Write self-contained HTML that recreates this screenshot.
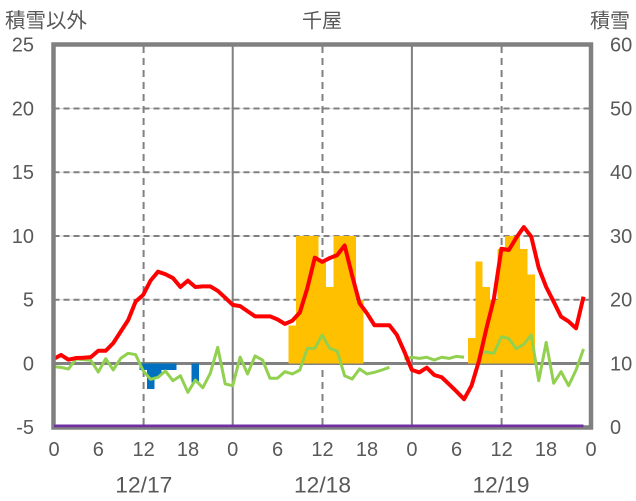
<!DOCTYPE html>
<html><head><meta charset="utf-8"><style>
html,body{margin:0;padding:0;background:#fff;}
svg{display:block;}
text{font-family:"Liberation Sans","Noto Sans CJK JP",sans-serif;fill:#595959;}
</style></head><body>
<svg width="636" height="501" viewBox="0 0 636 501" xmlns="http://www.w3.org/2000/svg">
<!-- horizontal gridlines -->
<g stroke="#d9d9d9" stroke-width="1">
<line x1="53.5" x2="591" y1="108.5" y2="108.5"/>
<line x1="53.5" x2="591" y1="172.25" y2="172.25"/>
<line x1="53.5" x2="591" y1="236" y2="236"/>
<line x1="53.5" x2="591" y1="299.75" y2="299.75"/>
</g>
<g stroke="#808080" stroke-width="2" stroke-dasharray="6 4">
<line x1="53.5" x2="591" y1="108.5" y2="108.5"/>
<line x1="53.5" x2="591" y1="172.25" y2="172.25"/>
<line x1="53.5" x2="591" y1="236" y2="236"/>
<line x1="53.5" x2="591" y1="299.75" y2="299.75"/>
</g>
<!-- vertical lines -->
<g stroke="#808080" stroke-width="2" stroke-dasharray="7 5">
<line x1="143.6" x2="143.6" y1="46" y2="427"/>
<line x1="322.5" x2="322.5" y1="46" y2="427"/>
<line x1="501.6" x2="501.6" y1="46" y2="427"/>
</g>
<g stroke="#808080" stroke-width="2">
<line x1="232.7" x2="232.7" y1="46" y2="427"/>
<line x1="411.9" x2="411.9" y1="46" y2="427"/>
</g>
<!-- zero line -->
<line x1="53.5" x2="591" y1="363.5" y2="363.5" stroke="#808080" stroke-width="3"/>

<g transform="translate(53.5,363.5) scale(7.465,-12.75)" shape-rendering="crispEdges">
<!-- yellow bars -->
<g fill="#FFC000">
<rect x="31.5" y="0" width="1" height="3"/>
<rect x="32.5" y="0" width="3" height="10"/>
<rect x="35.5" y="0" width="1" height="8"/>
<rect x="36.5" y="0" width="1" height="6"/>
<rect x="37.5" y="0" width="3" height="10"/>
<rect x="40.5" y="0" width="1" height="5"/>
<rect x="55.5" y="0" width="1" height="2"/>
<rect x="56.5" y="0" width="1" height="8"/>
<rect x="57.5" y="0" width="1" height="6"/>
<rect x="58.5" y="0" width="1" height="5"/>
<rect x="59.5" y="0" width="1" height="9"/>
<rect x="60.5" y="0" width="2" height="10"/>
<rect x="62.5" y="0" width="1" height="9"/>
<rect x="63.5" y="0" width="1" height="7"/>
</g>
<!-- blue bars -->
<g fill="#0070C0">
<rect x="11.5" y="-0.5" width="5" height="0.5"/>
<rect x="12.5" y="-2" width="1" height="2"/>
<rect x="13.5" y="-1" width="1" height="1"/>
<rect x="18.5" y="-1.5" width="1" height="1.5"/>
</g>
</g>

<g transform="translate(53.5,363.5) scale(7.465,-12.75)" fill="none" stroke-linejoin="round">
<!-- purple line -->
<polyline vector-effect="non-scaling-stroke" stroke="#7030A0" stroke-width="2.5" points="0,-4.88 71,-4.88"/>
<!-- green line -->
<g stroke="#92D050" stroke-width="3">
<polyline vector-effect="non-scaling-stroke" points="0,-0.25 1,-0.3 2,-0.43 3,0.35 4,0.3 5,0.25 6,-0.67 7,0.38 8,-0.5 9,0.4 10,0.8 11,0.7 12,-0.56 13,-1.24 14,-1.08 15,-0.59 16,-1.35 17,-0.96 18,-2.26 19,-1.3 20,-1.9 21,-0.77 22,1.27 23,-1.6 24,-1.74 25,0.5 26,-0.82 27,0.59 28,0.27 29,-1.16 30,-1.16 31,-0.64 32,-0.82 33,-0.51 34,1.19 35,1.19 36,2.24 37,1.19 38,0.98 39,-0.96 40,-1.22 41,-0.43 42,-0.82 43,-0.69 44,-0.51 45,-0.3"/>
<polyline vector-effect="non-scaling-stroke" points="47,0.35 48,0.49 49,0.4 50,0.49 51,0.27 52,0.49 53,0.4 54,0.56 55,0.49"/>
<polyline vector-effect="non-scaling-stroke" points="57,0.8 58,0.9 59,0.8 60,2.1 61,1.95 62,1.16 63,1.5 64,2.24 65,-1.35 66,1.66 67,-1.55 68,-0.64 69,-1.74 70,-0.51 71,1.14"/>
</g>
<!-- red line -->
<polyline vector-effect="non-scaling-stroke" stroke="#FF0000" stroke-width="4" points="0,0.35 1,0.67 2,0.3 3,0.43 4,0.45 5,0.5 6,1.0 7,1.0 8,1.6 9,2.5 10,3.4 11,4.85 12,5.37 13,6.5 14,7.2 15,7.0 16,6.7 17,6.0 18,6.5 19,6.0 20,6.05 21,6.05 22,5.7 23,5.16 24,4.6 25,4.5 26,4.1 27,3.7 28,3.7 29,3.7 30,3.46 31,3.1 32,3.36 33,4.0 34,5.9 35,8.3 36,7.97 37,8.27 38,8.5 39,9.26 40,6.9 41,4.72 42,3.93 43,3.0 44,3.0 45,3.0 46,2.24 47,0.93 48,-0.5 49,-0.7 50,-0.33 51,-0.9 52,-1.08 53,-1.63 54,-2.2 55,-2.8 56,-1.74 57,0.22 58,2.76 59,5.1 60,9.0 61,8.9 62,9.87 63,10.7 64,9.95 65,7.5 66,6.0 67,4.85 68,3.67 69,3.3 70,2.76 71,5.24"/>
</g>

<!-- border -->
<rect x="53.5" y="44.5" width="537.5" height="383" fill="none" stroke="#808080" stroke-width="4.5"/>
<line x1="54" x2="583.5" y1="426" y2="426" stroke="#7030A0" stroke-width="2.5"/>

<!-- left axis labels -->
<g font-size="20" text-anchor="end">
<text x="34" y="51.5">25</text>
<text x="34" y="115.5">20</text>
<text x="34" y="179.2">15</text>
<text x="34" y="243">10</text>
<text x="34" y="306.7">5</text>
<text x="34" y="370.5">0</text>
<text x="34" y="434.2">-5</text>
</g>
<!-- right axis labels -->
<g font-size="20" text-anchor="start">
<text x="610" y="51.5">60</text>
<text x="610" y="115.5">50</text>
<text x="610" y="179.2">40</text>
<text x="610" y="243">30</text>
<text x="610" y="306.7">20</text>
<text x="610" y="370.5">10</text>
<text x="610" y="434.2">0</text>
</g>
<!-- x tick labels -->
<g font-size="20" text-anchor="middle">
<text x="54" y="456">0</text>
<text x="98.3" y="456">6</text>
<text x="143.6" y="456">12</text>
<text x="188" y="456">18</text>
<text x="232.7" y="456">0</text>
<text x="277.5" y="456">6</text>
<text x="322.5" y="456">12</text>
<text x="367" y="456">18</text>
<text x="411.9" y="456">0</text>
<text x="456.5" y="456">6</text>
<text x="501.6" y="456">12</text>
<text x="546" y="456">18</text>
<text x="591" y="456">0</text>
</g>
<!-- date labels -->
<g font-size="22" text-anchor="middle">
<text x="143.8" y="492.5" textLength="57" lengthAdjust="spacingAndGlyphs">12/17</text>
<text x="322.5" y="492.5" textLength="57" lengthAdjust="spacingAndGlyphs">12/18</text>
<text x="501" y="492.5" textLength="57" lengthAdjust="spacingAndGlyphs">12/19</text>
</g>
<!-- titles -->
<text x="5" y="27.5" font-size="20.5">積雪以外</text>
<text x="322" y="27.5" font-size="20" text-anchor="middle">千屋</text>
<text x="610" y="27.5" font-size="20" text-anchor="middle">積雪</text>
</svg>
</body></html>
